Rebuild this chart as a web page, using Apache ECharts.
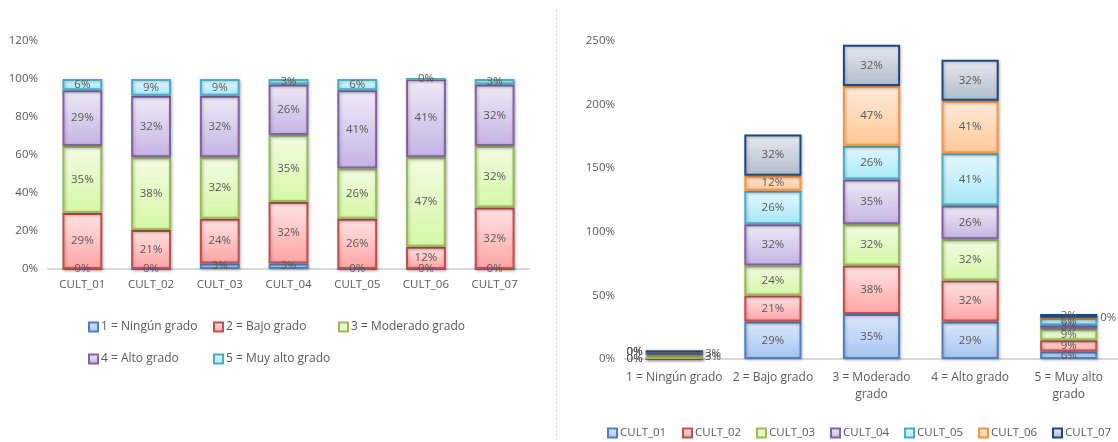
<!DOCTYPE html>
<html>
<head>
<meta charset="utf-8">
<script src="https://cdn.jsdelivr.net/npm/echarts@6/dist/echarts.min.js"></script>
<style>
html,body{margin:0;padding:0;background:#fff;}
#chart{width:1118px;height:442px;}
</style>
</head>
<body>
<div id="chart"></div>
<script>
// ---- data ----
const cults = ['CULT_01','CULT_02','CULT_03','CULT_04','CULT_05','CULT_06','CULT_07'];
const levels = ['1 = Ningún grado','2 = Bajo grado','3 = Moderado grado','4 = Alto grado','5 = Muy alto grado'];
const level1 = [0, 0, 2.94, 2.94, 0, 0, 0];
const level2 = [29.41, 20.59, 23.53, 32.35, 26.47, 11.76, 32.35];
const level3 = [35.29, 38.24, 32.35, 35.29, 26.47, 47.06, 32.35];
const level4 = [29.41, 32.35, 32.35, 26.47, 41.18, 41.18, 32.35];
const level5 = [5.88, 8.82, 8.82, 2.94, 5.88, 0, 2.94];
const leftTicks = [0, 20, 40, 60, 80, 100, 120];
const rightTicks = [0, 50, 100, 150, 200, 250];

const levelData = [level1, level2, level3, level4, level5];

// ---- styles ----
const palette = [
  {b:'#4F81BD', t:'#DDE8FB', d:'#A7C3F3'},
  {b:'#C0504D', t:'#FFE3E3', d:'#FFA4A4'},
  {b:'#9BBB59', t:'#F2FCE2', d:'#D6F7A7'},
  {b:'#8064A2', t:'#EFEAF7', d:'#C5B3E3'},
  {b:'#4BACC6', t:'#E5F8FD', d:'#A7E8F9'},
  {b:'#F79646', t:'#FFEBDA', d:'#FFC796'},
  {b:'#1F497D', t:'#E7EAF0', d:'#B1BCCC'}
];
function itemStyle(i){
  const p = palette[i];
  return {
    color: new echarts.graphic.LinearGradient(0,0,0,1,[{offset:0,color:p.t},{offset:1,color:p.d}]),
    borderColor: p.b, borderWidth: 2,
    shadowColor:'rgba(0,0,0,0.25)', shadowBlur:3, shadowOffsetX:1, shadowOffsetY:1
  };
}
const txt = '#595959';
const font = 'Open Sans';
const fmt = p => Math.round(p.value) + '%';

const series = [];
// left chart: series by level
levelData.forEach((arr, i) => {
  series.push({
    name: levels[i], type: 'bar', stack: 'L', xAxisIndex: 0, yAxisIndex: 0,
    barWidth: '58%',
    data: arr,
    itemStyle: itemStyle(i),
    label: {show: true, position: 'inside', color: txt, fontSize: 11.5, fontFamily: font, formatter: fmt}
  });
});
// right chart: series by cult
cults.forEach((c, j) => {
  const data = levelData.map((arr, k) => {
    const v = arr[j];
    let pos = 'inside';
    if (k === 0) pos = v === 0 ? 'left' : 'right';
    if (k === 4 && v === 0) pos = 'right';
    return {value: v, label: {position: pos}};
  });
  series.push({
    name: c, type: 'bar', stack: 'R', xAxisIndex: 1, yAxisIndex: 1,
    barWidth: '58%',
    data: data,
    itemStyle: itemStyle(j),
    label: {show: true, position: 'inside', distance: 2, color: txt, fontSize: 11.5, fontFamily: font, formatter: fmt}
  });
});

function legendAt(name, left, top, fs){
  return {data:[name], left:left, top:top, padding:0, itemWidth:9, itemHeight:9, itemGap:0,
    icon:'rect', textStyle:{color:txt, fontSize:fs, fontFamily:font, padding:[0,0,0,-2]}};
}
const legends = [
  legendAt(levels[0], 88, 321, 12), legendAt(levels[1], 213, 321, 12), legendAt(levels[2], 338, 321, 12),
  legendAt(levels[3], 88, 353, 12), legendAt(levels[4], 213, 353, 12)
];
const rx = [607, 682, 756, 830, 904, 978, 1052];
cults.forEach((c, j) => legends.push(legendAt(c, rx[j], 427, 11.5)));

// wrap long category labels (last word onto a second line)
const wrapLabel = v => v.length > 16 ? v.replace(/ (\S+)$/, '\n$1') : v;

const axisLabel = {color: txt, fontSize: 11.5, fontFamily: font};
const option = {
  animation: false,
  backgroundColor: '#fff',
  grid: [
    {left: 48, top: 41, width: 481, height: 228, containLabel: false},
    {left: 625, top: 41, width: 497, height: 318, containLabel: false}
  ],
  xAxis: [
    {type:'category', gridIndex:0, data: cults, axisTick:{show:false},
     axisLine:{lineStyle:{color:'#D9D9D9', width:2}}, axisLabel:{...axisLabel, margin:10, interval:0}},
    {type:'category', gridIndex:1, data: levels, axisTick:{show:false},
     axisLine:{lineStyle:{color:'#D9D9D9', width:2}},
     axisLabel:{...axisLabel, fontSize: 12, margin:10, interval:0, lineHeight: 17, formatter: wrapLabel}}
  ],
  yAxis: [
    {type:'value', gridIndex:0, min: leftTicks[0], max: leftTicks[leftTicks.length-1], interval: 20,
     splitLine:{show:false}, axisLine:{show:false}, axisTick:{show:false},
     axisLabel:{...axisLabel, formatter:'{value}%', margin: 10}},
    {type:'value', gridIndex:1, min: rightTicks[0], max: rightTicks[rightTicks.length-1], interval: 50,
     splitLine:{show:false}, axisLine:{show:false}, axisTick:{show:false},
     axisLabel:{...axisLabel, formatter:'{value}%', margin: 10}}
  ],
  legend: legends,
  graphic: [
    {type:'line', shape:{x1:556.5, y1:10, x2:556.5, y2:442}, style:{stroke:'#DDDDDD', lineWidth:1, lineDash:[2,2]}}
  ],
  series: series
};
const chart = echarts.init(document.getElementById('chart'), null, {renderer:'canvas'});
chart.setOption(option);
</script>
</body>
</html>
